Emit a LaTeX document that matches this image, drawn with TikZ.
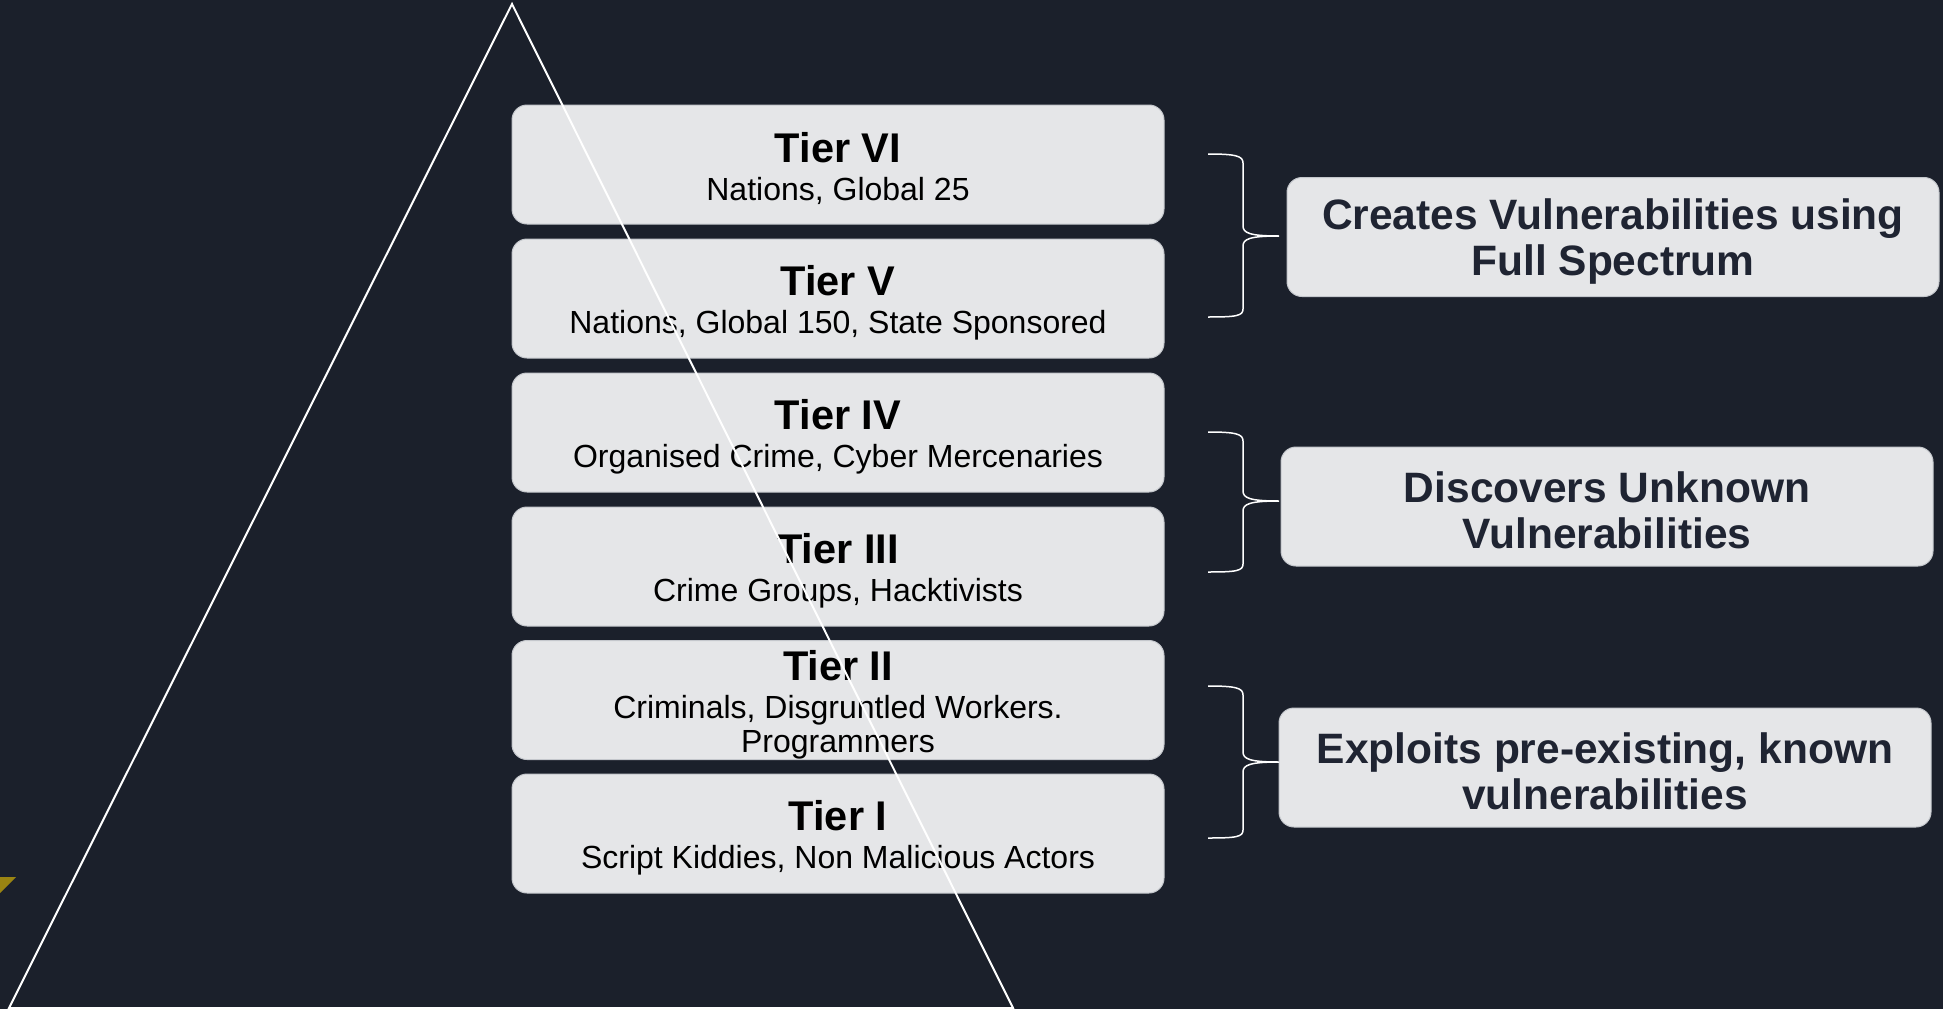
\documentclass[tikz,border=0pt]{standalone}
\usepackage{fontspec}
\setmainfont{Liberation Sans}
\usetikzlibrary{positioning}
\definecolor{bg}{RGB}{27,32,43}
\definecolor{panel}{RGB}{229,230,232}
\definecolor{rim}{RGB}{196,199,204}
\definecolor{ink}{RGB}{31,36,50}
\definecolor{gold}{RGB}{154,132,18}
\newcommand{\tiertitle}[1]{{\fontsize{41.5}{44}\selectfont\bfseries\rule{0pt}{39pt}#1}}
\newcommand{\roleline}{\rule{0pt}{39pt}}

\begin{document}
\begin{tikzpicture}[x=1pt, y=-1pt,
  tier/.style={rounded corners=15pt, draw=rim, line width=1pt, fill=panel, align=center, inner sep=0pt, minimum width=652pt, minimum height=119pt, font=\fontsize{32}{34}\selectfont},
  role/.style={rounded corners=15pt, draw=rim, line width=1pt, fill=panel, align=center, inner sep=0pt, minimum width=652pt, minimum height=119pt, text=ink, font=\fontsize{42.5}{46}\selectfont\bfseries},
  brace/.style={draw=white, line width=1.5pt},
  edge/.style={draw=white, line width=2pt}]

\useasboundingbox (0,0) rectangle (1943,1009);
\fill[bg] (0,0) rectangle (1943,1009);
\fill[gold] (0,877) -- (16,877) -- (0,893) -- cycle;

\node[tier] at (838,164.5) (t6) {\tiertitle{Tier VI}\\[4pt] Nations, Global 25};
\node[tier] at (838,298.5) (t5) {\tiertitle{Tier V}\\[4pt] Nations, Global 150, State Sponsored};
\node[tier] at (838,432.5) (t4) {\tiertitle{Tier IV}\\[4pt] Organised Crime, Cyber Mercenaries};
\node[tier] at (838,566.5) (t3) {\tiertitle{Tier III}\\[4pt] Crime Groups, Hacktivists};
\node[tier] at (838,700) (t2) {\tiertitle{Tier II}\\[4pt] Criminals, Disgruntled Workers.\\ Programmers};
\node[tier] at (838,833.5) (t1) {\tiertitle{Tier I}\\[4pt] Script Kiddies, Non Malicious Actors};

% pyramid outline over the tiers
\draw[edge] (512,4) -- (1013,1008) -- (9,1008) -- cycle;

\node[role] at (1613,237) (cre) {\roleline Creates Vulnerabilities using\\ Full Spectrum};
\node[role] at (1607,506.5) (dis) {\roleline Discovers Unknown\\ Vulnerabilities};
\node[role] at (1605,767.5) (exp) {\roleline Exploits pre-existing, known\\ vulnerabilities};

\draw[brace] (1208,154) .. controls (1236,154) and (1243,156) .. (1243,163) -- (1243,226)
  .. controls (1243,233) and (1250,236) .. (1279,236)
  .. controls (1250,236) and (1243,239) .. (1243,246) -- (1243,309)
  .. controls (1243,316) and (1236,317) .. (1208,317);
\draw[brace] (1208,432) .. controls (1236,432) and (1243,434) .. (1243,441) -- (1243,491)
  .. controls (1243,498) and (1250,501) .. (1279,501)
  .. controls (1250,501) and (1243,504) .. (1243,511) -- (1243,564)
  .. controls (1243,571) and (1236,572) .. (1208,572);
\draw[brace] (1208,686) .. controls (1236,686) and (1243,688) .. (1243,695) -- (1243,752)
  .. controls (1243,759) and (1250,762) .. (1279,762)
  .. controls (1250,762) and (1243,765) .. (1243,772) -- (1243,830)
  .. controls (1243,837) and (1236,838) .. (1208,838);
\end{tikzpicture}
\end{document}
